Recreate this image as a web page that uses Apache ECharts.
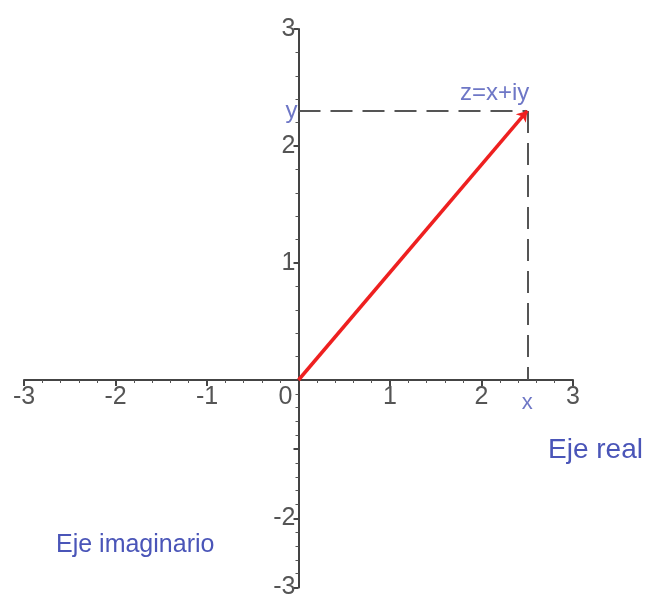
<!DOCTYPE html>
<html>
<head>
<meta charset="utf-8">
<script src="https://cdn.jsdelivr.net/npm/echarts@6/dist/echarts.min.js"></script>
<style>
  html, body { margin: 0; padding: 0; background: #fff; }
  #chart { width: 649px; height: 600px; }
</style>
</head>
<body>
<div id="chart"></div>
<script>
// data
const xRange = [-3, 3];
const yUpper = [0, 3];
const yLower = [-3, 0];
const zPoint = [2.5, 2.3];
const pointLabels = ['x', 'y', 'z=x+iy'];
const axisTitles = ['Eje real', 'Eje imaginario'];

const font = '"Liberation Sans Narrow", "Liberation Sans", Arial, sans-serif';
const gray = '#555';
const blue = '#4a55b8';

const chart = echarts.init(document.getElementById('chart'));

// y axes sit on x = 0, moved in from the grid's left edge
const yShift = -274.5;

const tickStyle = { color: '#444', width: 2 };
const minorStyle = { color: '#555' };

chart.setOption({
  animation: false,
  grid: [
    { left: 24, width: 549, top: 29, height: 351 },
    { left: 24, width: 549, top: 380, height: 210 }
  ],
  xAxis: [
    {
      gridIndex: 0, type: 'value', min: xRange[0], max: xRange[1], interval: 1,
      axisLine: { onZero: true, lineStyle: { color: '#444', width: 2 } },
      axisTick: { show: true, length: 6, lineStyle: tickStyle },
      minorTick: { show: true, splitNumber: 5, length: 3, lineStyle: minorStyle },
      splitLine: { show: false },
      axisLabel: {
        color: gray, fontFamily: font, fontSize: 25, margin: 5,
        formatter: v => v === 0 ? '{z|0}' : String(v),
        rich: { z: { color: gray, fontFamily: font, fontSize: 25, padding: [0, 26, 0, 0] } }
      }
    },
    {
      gridIndex: 1, type: 'value', min: xRange[0], max: xRange[1],
      show: false
    }
  ],
  yAxis: [
    {
      gridIndex: 0, type: 'value', min: yUpper[0], max: yUpper[1], interval: 1,
      position: 'left', offset: yShift,
      axisLine: { show: true, onZero: false, lineStyle: { color: '#444', width: 2 } },
      axisTick: { show: true, length: 5, lineStyle: tickStyle },
      minorTick: { show: true, splitNumber: 5, length: 3, lineStyle: minorStyle },
      splitLine: { show: false },
      axisLabel: {
        color: gray, fontFamily: font, fontSize: 25, margin: 3,
        formatter: v => v === 0 ? '' : String(v)
      }
    },
    {
      gridIndex: 1, type: 'value', min: yLower[0], max: yLower[1], interval: 1,
      position: 'left', offset: yShift,
      axisLine: { show: true, onZero: false, lineStyle: { color: '#444', width: 2 } },
      axisTick: { show: true, length: 5, lineStyle: tickStyle },
      minorTick: { show: true, splitNumber: 5, length: 3, lineStyle: minorStyle },
      splitLine: { show: false },
      axisLabel: {
        color: gray, fontFamily: font, fontSize: 25, margin: 3,
        formatter: v => (v === 0 || v === -1) ? '' : String(v)
      }
    }
  ],
  series: [
    {
      // projection lines
      type: 'lines', coordinateSystem: 'cartesian2d', xAxisIndex: 0, yAxisIndex: 0,
      symbol: 'none',
      lineStyle: { color: gray, width: 2, type: [22, 10], opacity: 1 },
      data: [
        { coords: [[0, zPoint[1]], zPoint] },
        { coords: [zPoint, [zPoint[0], 0]] }
      ]
    },
    {
      // the vector
      type: 'lines', coordinateSystem: 'cartesian2d', xAxisIndex: 0, yAxisIndex: 0,
      symbol: ['none', 'arrow'], symbolSize: 10,
      lineStyle: { color: '#ee2020', width: 3.5, opacity: 1 },
      data: [{ coords: [[0, 0], zPoint] }]
    },
    {
      type: 'scatter', xAxisIndex: 0, yAxisIndex: 0, symbolSize: 0, silent: true,
      label: { show: true, color: blue, fontFamily: font, fontSize: 22 },
      data: [
        { value: [zPoint[0], 0], label: { formatter: pointLabels[0], position: 'bottom', distance: 12 } },
        { value: [0, zPoint[1]], label: { formatter: pointLabels[1], position: 'left', distance: 1, fontSize: 24 } },
        { value: zPoint, label: { formatter: pointLabels[2], position: 'top', align: 'right', offset: [2, -1], fontSize: 24 } }
      ]
    }
  ],
  graphic: [
    {
      type: 'text', left: 548, top: 436,
      style: { text: axisTitles[0], fill: blue, font: '28px ' + font }
    },
    {
      type: 'text', left: 56, top: 533,
      style: { text: axisTitles[1], fill: blue, font: '25px ' + font }
    }
  ]
});
</script>
</body>
</html>
